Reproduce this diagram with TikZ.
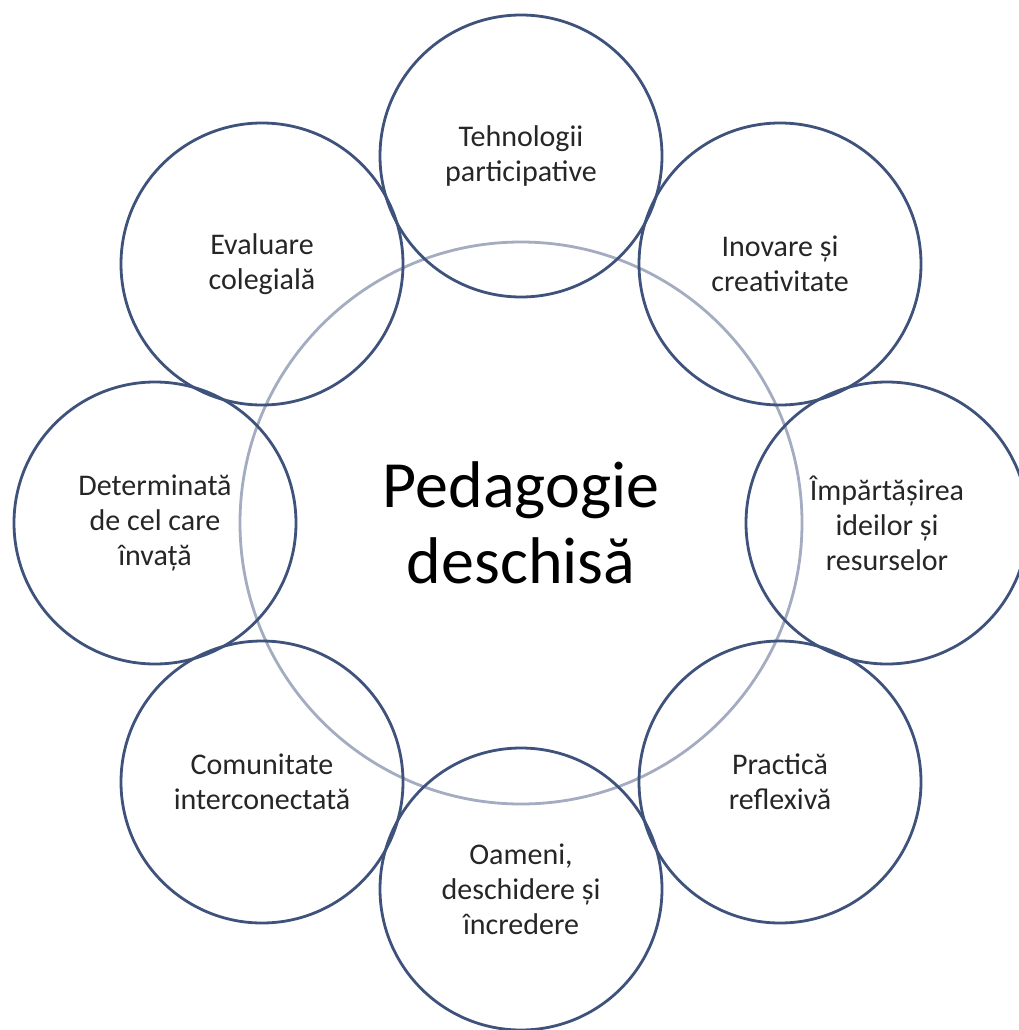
\documentclass[tikz,border=0pt]{standalone}
\usepackage{fontspec}
\setmainfont{Carlito}
\definecolor{ringblue}{HTML}{3E527C}
\definecolor{coregray}{HTML}{A3ACC0}
\definecolor{txt}{HTML}{262626}
\begin{document}
\begin{tikzpicture}[x=1pt,y=1pt,
  outer/.style={circle, draw=ringblue, line width=2.8pt, minimum size=282pt, inner sep=0pt,
    align=center, text=txt, font=\fontsize{30}{35}\selectfont},
  core/.style={circle, draw=coregray, line width=2.8pt, minimum size=562pt, inner sep=0pt,
    align=center, text=black, font=\fontsize{66}{76}\selectfont}]
\useasboundingbox[fill=white] (0,0) rectangle (1019,-1030);
\node[core] (c) at (521,-523) {Pedagogie\\deschisă};
\node[outer] (n1) at (521,-156) {Tehnologii\\participative};
\node[outer] (n2) at (780,-264) {Inovare și\\creativitate};
\node[outer] (n3) at (887,-523) {Împărtășirea\\ideilor și\\resurselor};
\node[outer] (n4) at (780,-782) {Practică\\reflexivă};
\node[outer] (n5) at (521,-889) {Oameni,\\deschidere și\\încredere};
\node[outer] (n6) at (262,-782) {Comunitate\\interconectată};
\node[outer] (n7) at (155,-523) {Determinată\\de cel care\\învață};
\node[outer] (n8) at (262,-264) {Evaluare\\colegială};
\end{tikzpicture}
\end{document}
